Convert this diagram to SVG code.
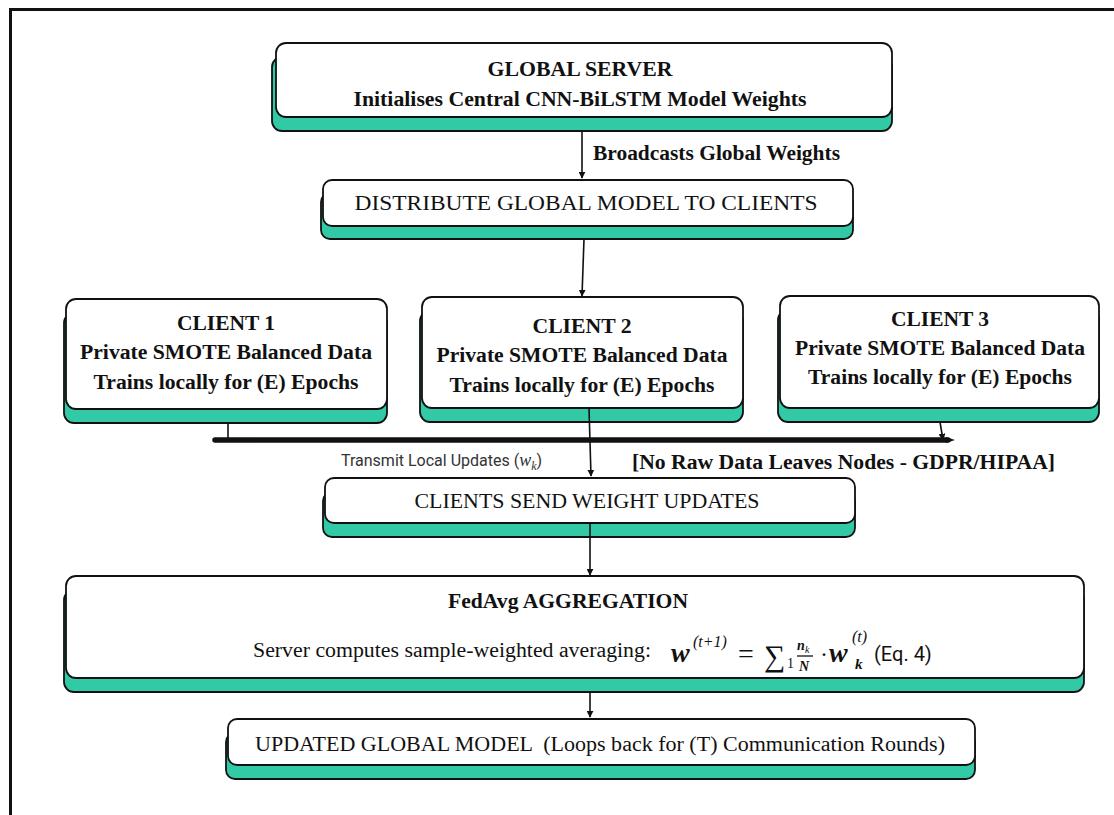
<svg xmlns="http://www.w3.org/2000/svg" width="1114" height="815" viewBox="0 0 1114 815">
<defs>
<style>
.box{fill:#ffffff;stroke:#111;stroke-width:1.8}
.sh{fill:#31c9a6;stroke:#111;stroke-width:1.8}
.b{font-family:"Liberation Serif","Times New Roman",Tinos,Times,serif;font-weight:bold;font-size:20px;fill:#111}
.r{font-family:"Liberation Serif","Times New Roman",Tinos,Times,serif;font-size:20px;fill:#111}
.m{font-family:"Liberation Serif","Times New Roman",Tinos,Times,serif;font-style:italic;fill:#111}
.s{font-family:Roboto,"Liberation Sans",sans-serif;fill:#333}
.c{stroke:#111;stroke-width:1.6;fill:none}
</style>
<marker id="ah" viewBox="0 0 10 10" refX="9" refY="5" markerWidth="7" markerHeight="7" orient="auto" markerUnits="userSpaceOnUse">
<path d="M0,0 L10,5 L0,10 z" fill="#111"/>
</marker>
</defs>
<rect width="1114" height="815" fill="#ffffff"/>
<path d="M10.5,815 V9.5 H1114" fill="none" stroke="#111" stroke-width="3"/>

<g id="global-server">
<rect class="sh" x="272" y="57" width="620" height="74" rx="10"/>
<rect class="box" x="276" y="43" width="616" height="74" rx="10"/>
<text class="b" x="580" y="76" text-anchor="middle" textLength="185" lengthAdjust="spacingAndGlyphs">GLOBAL SERVER</text>
<text class="b" x="580" y="106" text-anchor="middle" textLength="453" lengthAdjust="spacingAndGlyphs">Initialises Central CNN-BiLSTM Model Weights</text>
</g>

<g id="distribute">
<rect class="sh" x="321" y="193" width="532" height="46" rx="9"/>
<rect class="box" x="323" y="180" width="530" height="46" rx="9"/>
<text class="r" x="586" y="210" text-anchor="middle" textLength="463" lengthAdjust="spacingAndGlyphs">DISTRIBUTE GLOBAL MODEL TO CLIENTS</text>
</g>

<g id="client1">
<rect class="sh" x="64" y="313" width="323" height="110" rx="10"/>
<rect class="box" x="66" y="299" width="321" height="110" rx="10"/>
<text class="b" x="226" y="330" text-anchor="middle" textLength="98" lengthAdjust="spacingAndGlyphs">CLIENT 1</text>
<text class="b" x="226" y="359" text-anchor="middle" textLength="292" lengthAdjust="spacingAndGlyphs">Private SMOTE Balanced Data</text>
<text class="b" x="226" y="389" text-anchor="middle" textLength="265" lengthAdjust="spacingAndGlyphs">Trains locally for (E) Epochs</text>
</g>

<g id="client2">
<rect class="sh" x="420" y="311" width="323" height="111" rx="10"/>
<rect class="box" x="422" y="297" width="321" height="111" rx="10"/>
<text class="b" x="582" y="333" text-anchor="middle" textLength="99" lengthAdjust="spacingAndGlyphs">CLIENT 2</text>
<text class="b" x="582" y="362" text-anchor="middle" textLength="291" lengthAdjust="spacingAndGlyphs">Private SMOTE Balanced Data</text>
<text class="b" x="582" y="392" text-anchor="middle" textLength="265" lengthAdjust="spacingAndGlyphs">Trains locally for (E) Epochs</text>
</g>

<g id="client3">
<rect class="sh" x="778" y="310" width="321" height="112" rx="10"/>
<rect class="box" x="780" y="296" width="319" height="112" rx="10"/>
<text class="b" x="940" y="326" text-anchor="middle" textLength="98" lengthAdjust="spacingAndGlyphs">CLIENT 3</text>
<text class="b" x="940" y="355" text-anchor="middle" textLength="290" lengthAdjust="spacingAndGlyphs">Private SMOTE Balanced Data</text>
<text class="b" x="940" y="384" text-anchor="middle" textLength="264" lengthAdjust="spacingAndGlyphs">Trains locally for (E) Epochs</text>
</g>

<g id="clients-send">
<rect class="sh" x="323" y="492" width="532" height="45" rx="9"/>
<rect class="box" x="325" y="478" width="530" height="45" rx="9"/>
<text class="r" x="587" y="508" text-anchor="middle" textLength="345" lengthAdjust="spacingAndGlyphs">CLIENTS SEND WEIGHT UPDATES</text>
</g>

<g id="fedavg">
<rect class="sh" x="64" y="590" width="1020" height="102" rx="10"/>
<rect class="box" x="66" y="576" width="1018" height="102" rx="10"/>
<text class="b" x="568" y="608" text-anchor="middle" textLength="240" lengthAdjust="spacingAndGlyphs">FedAvg AGGREGATION</text>
<text class="r" x="253" y="657" textLength="398" lengthAdjust="spacingAndGlyphs">Server computes sample-weighted averaging:</text>
<text class="m" x="671" y="662" style="font-size:28px;font-weight:bold">w</text>
<text class="m" x="693" y="647" style="font-size:16px">(t+1)</text>
<text class="r" x="738" y="663" style="font-size:28px">=</text>
<text class="r" x="764" y="666" style="font-size:30px">∑</text>
<text class="r" x="787" y="668" style="font-size:14px">1</text>
<text class="m" x="797" y="650" style="font-size:14px;font-weight:bold">n</text>
<text class="m" x="805" y="653" style="font-size:10px">k</text>
<line x1="797" y1="656" x2="813" y2="656" stroke="#111" stroke-width="1.3"/>
<text class="m" x="799" y="671" style="font-size:14px;font-weight:bold">N</text>
<text class="r" x="820" y="662" style="font-size:24px">·</text>
<text class="m" x="829" y="662" style="font-size:28px;font-weight:bold">w</text>
<text class="m" x="852" y="642" style="font-size:16px">(t)</text>
<text class="m" x="855" y="669" style="font-size:15px;font-weight:bold">k</text>
<text class="s" x="874" y="661" style="font-size:20px;fill:#111">(Eq. 4)</text>
</g>

<g id="updated-model">
<rect class="sh" x="226" y="733" width="749" height="46" rx="9"/>
<rect class="box" x="228" y="719" width="747" height="46" rx="9"/>
<text class="r" x="600" y="751" text-anchor="middle" textLength="690" lengthAdjust="spacingAndGlyphs" xml:space="preserve">UPDATED GLOBAL MODEL  (Loops back for (T) Communication Rounds)</text>
</g>

<g id="connectors">
<line class="c" x1="582" y1="131" x2="582" y2="178" marker-end="url(#ah)"/>
<text class="b" x="593" y="160" textLength="247" lengthAdjust="spacingAndGlyphs">Broadcasts Global Weights</text>
<line class="c" x1="584" y1="239" x2="582" y2="296" marker-end="url(#ah)"/>
<line class="c" x1="228" y1="423" x2="228" y2="440"/>
<line class="c" x1="940" y1="422" x2="943" y2="440" marker-end="url(#ah)"/>
<line x1="215" y1="440" x2="948" y2="440" stroke="#111" stroke-width="5.5" stroke-linecap="round"/>
<path d="M946,437 L955,440 L946,443 z" fill="#111"/>
<line class="c" x1="589" y1="408" x2="591" y2="476" marker-end="url(#ah)"/>
<text class="s" x="341" y="466" style="font-size:16px">Transmit Local Updates (<tspan class="m" style="font-size:18px;fill:#333">w</tspan><tspan class="m" dy="4" style="font-size:12px;fill:#333">k</tspan><tspan dy="-4">)</tspan></text>
<text class="b" x="632" y="469" textLength="423" lengthAdjust="spacingAndGlyphs">[No Raw Data Leaves Nodes - GDPR/HIPAA]</text>
<line class="c" x1="590" y1="523" x2="590" y2="575" marker-end="url(#ah)"/>
<line class="c" x1="590" y1="692" x2="590" y2="717" marker-end="url(#ah)"/>
</g>
</svg>
